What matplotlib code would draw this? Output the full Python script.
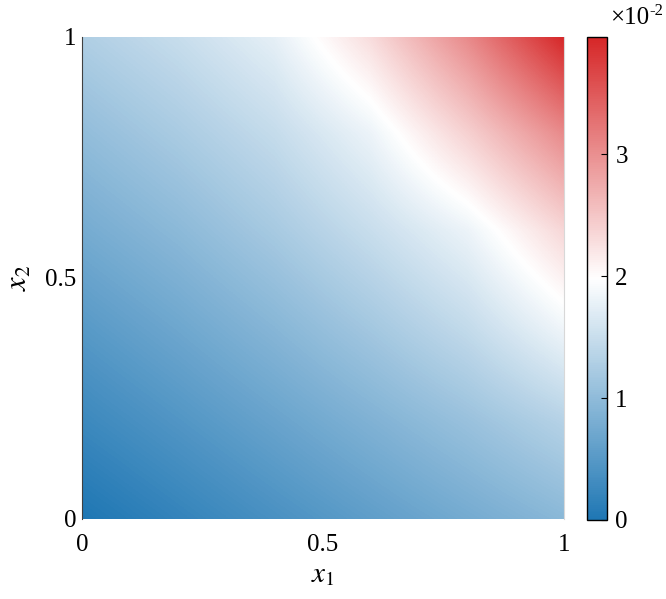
import matplotlib
matplotlib.use("Agg")
import matplotlib.pyplot as plt
import numpy as np
from matplotlib.colors import LinearSegmentedColormap

plt.rcParams['font.family'] = 'serif'
plt.rcParams['font.serif'] = ['Liberation Serif', 'DejaVu Serif']
plt.rcParams['mathtext.fontset'] = 'stix'

#------------------------------#
# Data (values in units of 1e-2)
#------------------------------#

# grid nodes along x1 and x2
x1_nodes = [0.0, 0.2, 0.4, 0.6, 0.8, 1.0]
x2_nodes = [0.0, 0.2, 0.4, 0.6, 0.8, 1.0]

# one row per x2 node, columns follow x1 nodes
row_x2_00 = [0.00, 0.19, 0.38, 0.57, 0.76, 0.95]
row_x2_02 = [0.26, 0.45, 0.65, 0.86, 1.08, 1.33]
row_x2_04 = [0.51, 0.71, 0.93, 1.18, 1.46, 1.86]
row_x2_06 = [0.77, 0.97, 1.21, 1.50, 1.82, 2.35]
row_x2_08 = [1.02, 1.23, 1.47, 1.82, 2.40, 3.05]
row_x2_10 = [1.28, 1.49, 1.76, 2.30, 3.05, 3.96]

cbar_ticks = [0, 1, 2, 3]
v_min, v_max = 0.0, 3.96

#------------------------------#

values = np.array([row_x2_00, row_x2_02, row_x2_04, row_x2_06, row_x2_08, row_x2_10])

# half-step padding so that image pixel centres sit on the grid nodes
dx = (x1_nodes[1] - x1_nodes[0]) / 2
dy = (x2_nodes[1] - x2_nodes[0]) / 2
extent = [x1_nodes[0] - dx, x1_nodes[-1] + dx, x2_nodes[0] - dy, x2_nodes[-1] + dy]

cmap = LinearSegmentedColormap.from_list("blue_white_red", ["#1f77b4", "#ffffff", "#d62728"])

fig = plt.figure(figsize=(6.66, 5.99), dpi=100)
ax = fig.add_axes([0.1231, 0.1336, 0.7237, 0.8047])
cax = fig.add_axes([0.8814, 0.1320, 0.0300, 0.8060])

im = ax.imshow(values, origin="lower", extent=extent, cmap=cmap, vmin=v_min, vmax=v_max,
               interpolation="bilinear", interpolation_stage="data", aspect="auto")

ax.set_xlim(0, 1)
ax.set_ylim(0, 1)
ax.set_xticks([0, 0.5, 1])
ax.set_yticks([0, 0.5, 1])
ax.set_xticklabels(["0", "0.5", "1"])
ax.set_yticklabels(["0", "0.5", "1"])
ax.tick_params(axis="x", length=0, pad=11, labelsize=18)
ax.tick_params(axis="y", length=0, pad=4, labelsize=18)

for side in ["top", "bottom"]:
    ax.spines[side].set_visible(False)
ax.spines["left"].set_color("#404040")
ax.spines["left"].set_linewidth(0.8)
ax.spines["right"].set_color("#d8d8d8")
ax.spines["right"].set_linewidth(0.8)

ax.set_xlabel("$x_1$", fontsize=21, labelpad=4)
ax.set_ylabel("$x_2$", fontsize=22, labelpad=8)

# Colorbar
cb = fig.colorbar(im, cax=cax, ticks=cbar_ticks)
cb.outline.set_linewidth(1.0)
cb.outline.set_edgecolor("black")
cax.tick_params(direction="in", length=4, width=0.8, pad=6, labelsize=18)
cax.set_yticklabels([str(t) for t in cbar_ticks])

# exponent label above the colorbar
t_base = cax.text(1.15, 1.027, "×10", transform=cax.transAxes, fontsize=18,
                  ha="left", va="baseline")
cax.annotate("-2", xy=(1.0, 1.0), xycoords=t_base, fontsize=12,
             ha="left", va="top", xytext=(0, 3), textcoords="offset points")

fig.savefig("out.png", dpi=100)
